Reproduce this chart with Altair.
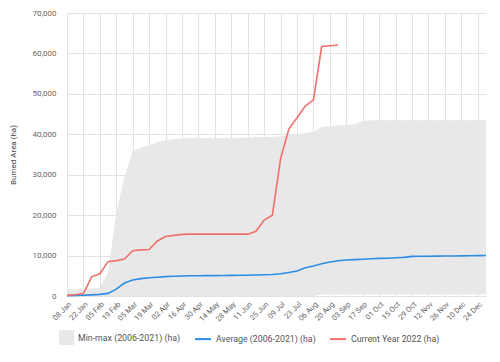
import datetime as dt
import altair as alt
import pandas as pd

# Weekly dates (week ending), 08 Jan 2022 -> 31 Dec 2022
start = dt.date(2022, 1, 8)
weeks = [(start + dt.timedelta(days=7 * i)).isoformat() for i in range(52)]

# Min-max band (2006-2021), ha
band_min = [0] * 31 + [350] * 21
band_max = [1700, 1700, 1750, 1850, 2000, 6000, 20500, 29500, 35800, 36700,
            37300, 38100, 38500, 38800, 38900, 39000, 39000, 39000, 39050, 39100,
            39100, 39150, 39200, 39300, 39300, 39350, 39500, 39800, 40000, 40300,
            40600, 41800, 42000, 42100, 42300, 42500, 43300, 43500, 43500, 43500,
            43500, 43500, 43500, 43500, 43500, 43500, 43500, 43500, 43500, 43500,
            43500, 43500]

# Average (2006-2021), ha
average = [100, 150, 200, 280, 400, 650, 1700, 3200, 3950, 4300,
           4500, 4650, 4800, 4900, 4950, 5000, 5000, 5030, 5050, 5080,
           5100, 5120, 5150, 5200, 5250, 5300, 5500, 5800, 6200, 7000,
           7400, 8000, 8400, 8700, 8900, 9000, 9100, 9200, 9300, 9350,
           9450, 9550, 9800, 9820, 9840, 9860, 9880, 9900, 9930, 9950,
           9980, 10000]

# Current year 2022, ha (data until end of August)
current = [200, 300, 600, 4750, 5500, 8500, 8750, 9150, 11200, 11400,
           11500, 13600, 14700, 15000, 15250, 15300, 15300, 15300, 15300, 15300,
           15300, 15300, 15300, 16000, 18800, 20000, 34000, 41300, 44100, 47000,
           48500, 61700, 61900, 62100]

tick_dates = [start + dt.timedelta(days=14 * k) for k in range(26)]

BAND = "Min-max (2006-2021) (ha)"
AVG = "Average (2006-2021) (ha)"
CUR = "Current Year 2022 (ha)"

band_df = pd.DataFrame({"date": weeks, "lo": band_min, "hi": band_max, "series": BAND})
line_df = pd.concat([
    pd.DataFrame({"date": weeks, "value": average, "series": AVG}),
    pd.DataFrame({"date": weeks[:len(current)], "value": current, "series": CUR}),
])

x_enc = alt.X(
    "date:T",
    scale=alt.Scale(type="utc",
                    domain=[alt.DateTime(year=2022, month=1, date=8, utc=True),
                            alt.DateTime(year=2022, month=12, date=31, utc=True)]),
    axis=alt.Axis(
        values=[alt.DateTime(year=d.year, month=d.month, date=d.day, utc=True) for d in tick_dates],
        format="%d %b", labelAngle=-45, ticks=False, domain=False, title=None,
        labelFontSize=7.5, labelColor="#666", labelPadding=4, grid=True,
        labelOverlap=False, labelBound=False, labelFlush=False,
    ),
)

y_scale = alt.Scale(domain=[0, 70000])
y_axis = alt.Axis(values=list(range(0, 70001, 10000)), format=",d", ticks=False, domain=False,
                  title="Burned Area (ha)", titleFontSize=8, titleFontWeight="normal",
                  titleColor="#444", titlePadding=14, labelFontSize=8, labelColor="#666",
                  labelPadding=11)

band = alt.Chart(band_df).mark_area(opacity=1).encode(
    x=x_enc,
    y=alt.Y("lo:Q", scale=y_scale, axis=y_axis),
    y2="hi:Q",
    fill=alt.Fill("series:N", scale=alt.Scale(domain=[BAND], range=["#e8e8e8"]),
                  legend=alt.Legend(orient="none", legendX=-8, legendY=317, title=None,
                                    symbolType="square", symbolSize=225, symbolStrokeWidth=0,
                                    symbolOpacity=1, labelFontSize=8.8, labelColor="#555",
                                    labelOffset=4, padding=0)),
)

lines = alt.Chart(line_df).mark_line(strokeWidth=1.6).encode(
    x=x_enc,
    y=alt.Y("value:Q", scale=y_scale),
    stroke=alt.Stroke("series:N", scale=alt.Scale(domain=[AVG, CUR], range=["#2b8de3", "#f0706a"]),
                      legend=alt.Legend(orient="none", legendX=127, legendY=317, title=None,
                                        direction="horizontal", symbolType="stroke",
                                        symbolSize=256, symbolStrokeWidth=2, labelFontSize=8.8,
                                        labelColor="#555", labelOffset=4, columnPadding=10,
                                        padding=0)),
)

chart = alt.layer(band, lines).properties(
    width=419, height=283,
    autosize=alt.AutoSizeParams(type="none"),
    padding={"left": 59, "top": 5, "right": 6, "bottom": 50},
).configure(font="Roboto").configure_view(stroke=None).configure_axis(
    gridColor="#e2e2e2", gridWidth=1, labelFont="Roboto", titleFont="Roboto"
).configure_legend(labelFont="Roboto")

chart.save("out.html", embed_options={"renderer": "svg", "actions": False})
